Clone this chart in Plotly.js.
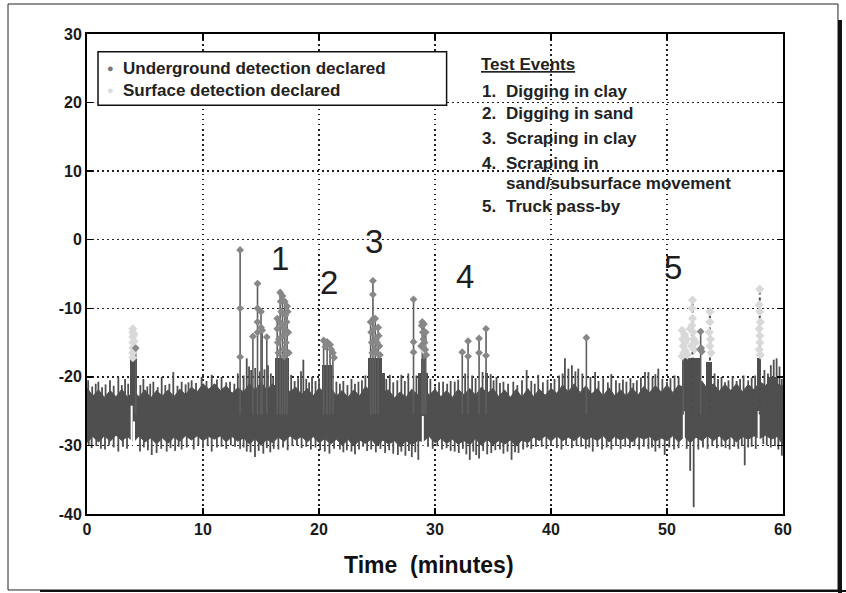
<!DOCTYPE html>
<html><head><meta charset="utf-8">
<script src="https://cdn.plot.ly/plotly-3.0.1.min.js"></script>
<style>html,body{margin:0;padding:0;background:#fff}#chart{width:846px;height:593px}</style>
</head><body><div id="chart"></div>
<script>
// ---- background noise band: envelope (minutes, value) ----
const bandT = [0,0.5,1,1.5,2,2.5,3,3.5,4,4.5,5,5.5,6,6.5,7,7.5,8,8.5,9,9.5,10,10.5,11,11.5,12,12.5,13,13.5,14,14.5,15,15.5,16,16.5,17,17.5,18,18.5,19,19.5,20,20.5,21,21.5,22,22.5,23,23.5,24,24.5,25,25.5,26,26.5,27,27.5,28,28.5,29,29.5,30,30.5,31,31.5,32,32.5,33,33.5,34,34.5,35,35.5,36,36.5,37,37.5,38,38.5,39,39.5,40,40.5,41,41.5,42,42.5,43,43.5,44,44.5,45,45.5,46,46.5,47,47.5,48,48.5,49,49.5,50,50.5,51,51.5,52,52.5,53,53.5,54,54.5,55,55.5,56,56.5,57,57.5,58,58.5,59,59.5,60];
const bandHi = [-21.6,-22.8,-21.9,-23.0,-22.0,-22.9,-21.8,-23.0,-22.1,-22.9,
  -21.9,-23.1,-22.0,-22.8,-21.9,-22.9,-21.8,-22.6,-21.5,-22.2,
  -21.0,-21.8,-21.0,-22.0,-21.3,-22.4,-21.6,-22.2,-21.0,-21.9,
  -20.8,-21.9,-21.0,-21.8,-21.1,-22.2,-21.5,-22.6,-21.7,-22.8,
  -21.6,-22.3,-21.5,-22.8,-22.0,-23.0,-21.9,-22.8,-21.4,-22.1,
  -21.2,-22.2,-21.9,-23.1,-22.2,-23.0,-21.8,-22.6,-21.4,-22.7,
  -21.8,-22.9,-22.0,-23.0,-21.8,-22.6,-21.7,-22.7,-21.5,-22.4,
  -21.7,-22.9,-21.9,-23.0,-21.8,-23.0,-21.7,-22.9,-21.8,-22.7,
  -21.7,-22.4,-21.2,-22.2,-21.0,-22.3,-21.3,-22.5,-21.7,-22.8,
  -21.6,-22.8,-21.9,-22.8,-21.6,-22.7,-21.4,-22.3,-21.3,-22.2,
  -21.2,-22.3,-21.2,-21.6,-20.6,-21.4,-20.6,-21.8,-21.0,-22.1,
  -21.1,-22.0,-21.0,-22.2,-21.1,-21.9,-20.7,-21.3,-20.2,-21.1,
  -21.3];
const bandLo = [-29.6,-28.7,-29.5,-28.6,-29.4,-28.5,-29.3,-28.7,-29.5,-28.6,
  -29.5,-28.9,-29.8,-28.9,-29.7,-28.8,-29.4,-28.6,-29.2,-28.6,
  -29.3,-28.7,-29.1,-28.6,-29.5,-28.7,-29.4,-28.9,-29.8,-29.0,
  -30.0,-29.1,-29.6,-28.8,-29.4,-28.6,-29.2,-28.7,-29.5,-28.7,
  -29.6,-29.0,-29.8,-29.1,-30.0,-29.1,-30.1,-29.2,-29.7,-29.1,
  -30.1,-29.2,-29.8,-29.3,-30.2,-29.3,-29.9,-29.3,-29.4,-28.7,
  -29.6,-29.0,-29.7,-29.1,-29.8,-29.3,-29.9,-29.0,-30.0,-29.1,
  -29.9,-29.3,-29.8,-29.2,-30.1,-29.2,-29.6,-28.8,-29.3,-28.6,
  -29.4,-28.6,-29.3,-28.8,-29.3,-28.6,-29.2,-28.8,-29.3,-28.6,
  -29.5,-28.7,-29.2,-28.8,-29.5,-28.7,-29.1,-28.7,-29.4,-28.9,
  -29.3,-28.6,-29.5,-28.7,-29.6,-28.8,-29.3,-28.6,-29.3,-28.6,
  -29.4,-28.7,-29.5,-28.7,-29.1,-28.6,-29.0,-28.5,-29.1,-28.7,
  -29.9];
const bandMid = -25.5;

// raised parts of the signal during events
const colMid = [4.0, 16.8, 20.7, 24.8, 25.55, 29.0, 28.95, 34.45, 52.1, 53.65, 57.95, 59.1];
const colWidth = [0.55, 1.2, 0.8, 1.2, 0.3, 0.45, 0.9, 0.3, 1.6, 0.5, 0.3, 1.0];
const colTop = [-17.4, -17.3, -18.3, -17.3, -19.5, -17.4, -19.5, -19.5, -17.3, -17.8, -17.3, -20.0];

// thin noise spikes above and below the band
const upT = [0.1,0.45,0.75,0.98,1.3,1.6,1.98,2.3,2.7,3.0,3.28,3.55,4.6,4.86,5.2,5.45,5.72,6.1,6.44,6.75,7.1,7.44,7.8,8.16,8.5,8.75,9.02,9.4,9.88,10.3,10.75,11.2,11.6,12.0,12.33,12.7,13.0,13.5,13.77,13.97,14.15,14.5,14.9,15.3,15.6,15.85,16.05,17.6,17.9,18.2,18.45,18.65,18.9,19.15,19.4,19.7,20.0,21.5,21.8,22.1,22.45,22.8,23.1,23.4,23.7,24.0,25.8,26.1,26.4,26.75,27.1,27.4,27.7,28.4,29.6,30.0,30.35,30.7,31.05,31.35,31.7,32.0,32.6,33.2,33.5,34.1,34.8,35.05,35.3,35.6,35.9,36.3,36.75,37.1,37.5,37.9,38.3,38.6,38.9,39.3,39.7,40.0,40.3,40.7,41.0,41.2,41.5,41.8,42.1,42.35,42.7,43.4,43.8,44.1,44.5,44.9,45.2,45.6,45.9,46.2,46.5,46.85,47.1,47.4,47.75,48.1,48.4,48.75,49.0,49.25,49.6,50.0,50.3,50.65,51.0,54.1,54.4,54.7,55.0,55.3,55.65,56.0,56.3,56.6,57.0,57.3,57.6,58.4,58.7,58.95,59.2,59.45,59.7,59.9];
const upV = [-20.5,-21.4,-21.0,-20.7,-21.5,-21.1,-20.5,-21.3,-20.0,-21.2,-20.3,-21.0,-21.2,-20.3,-21.4,-21.0,-20.7,-21.5,-20.0,-21.2,-21.0,-19.3,-21.3,-20.7,-21.1,-20.8,-20.5,-20.9,-20.0,-20.6,-19.7,-20.4,-20.0,-20.8,-20.7,-21.0,-19.5,-19.8,-17.3,-18.5,-19.0,-18.7,-19.2,-18.9,-18.3,-19.5,-20.0,-19.7,-20.6,-20.2,-19.2,-17.5,-20.3,-20.8,-20.0,-20.6,-20.2,-20.7,-21.0,-20.6,-21.2,-20.3,-21.0,-20.7,-20.5,-19.8,-20.3,-19.7,-20.8,-20.5,-19.7,-20.6,-19.5,-19.8,-20.3,-21.4,-20.8,-20.7,-21.0,-20.6,-20.7,-20.4,-19.5,-19.8,-20.2,-19.3,-19.6,-20.5,-20.0,-20.9,-20.7,-21.0,-20.7,-21.2,-20.5,-19.0,-20.6,-21.0,-19.7,-20.8,-20.4,-20.9,-20.3,-19.8,-19.5,-17.3,-18.8,-18.3,-19.2,-18.8,-19.5,-20.0,-19.3,-20.6,-20.2,-20.8,-19.6,-20.5,-20.9,-20.4,-20.7,-20.2,-20.9,-20.5,-20.1,-19.3,-19.3,-20.0,-19.6,-18.8,-20.3,-20.7,-20.2,-19.8,-20.0,-19.5,-20.3,-20.0,-20.8,-20.5,-19.9,-20.6,-20.3,-19.8,-20.5,-20.1,-19.8,-19.0,-19.5,-18.3,-17.5,-17.3,-18.5,-20.3];
const dnT = [0.15,0.4,0.8,1.2,1.55,1.9,2.3,2.7,3.1,3.45,4.57,4.9,5.25,5.58,6.0,6.4,6.87,7.2,7.6,7.9,8.16,8.6,9.2,9.6,10.0,10.4,10.75,11.2,11.6,12.0,12.4,12.76,13.2,13.5,13.77,14.1,14.48,14.8,15.2,15.5,15.8,16.1,16.5,16.9,17.3,17.7,18.1,18.5,18.9,19.3,19.7,20.1,20.5,20.9,21.3,21.8,22.1,22.4,22.8,23.1,23.45,23.8,24.15,24.5,24.9,25.3,25.7,26.05,26.4,26.8,27.1,27.45,27.75,28.0,28.3,28.56,29.4,29.8,30.2,30.6,31.0,31.35,31.7,32.05,32.4,32.7,33.0,33.3,33.55,33.8,34.15,34.5,34.85,35.2,35.6,35.9,36.25,36.6,36.9,37.2,37.6,37.95,38.3,38.7,39.2,39.6,40.0,40.5,40.9,41.3,41.8,42.2,42.6,43.0,43.3,43.6,44.0,44.4,44.8,45.2,45.6,46.0,46.4,46.8,47.2,47.6,48.0,48.4,48.7,49.0,49.35,49.8,50.2,50.6,51.0,51.7,52.0,52.3,52.7,53.1,53.5,53.9,54.3,54.7,55.05,55.4,55.8,56.15,56.45,56.7,57.0,57.3,57.65,58.3,58.6,58.95,59.3,59.6,59.9];
const dnV = [-30.0,-30.4,-30.1,-30.5,-30.6,-30.0,-30.3,-30.9,-30.2,-30.5,-30.9,-30.3,-30.7,-31.4,-31.1,-30.5,-30.9,-30.4,-30.8,-30.2,-30.6,-30.3,-30.6,-30.0,-30.4,-30.1,-30.9,-30.3,-30.2,-30.5,-30.0,-30.2,-30.5,-30.3,-30.9,-31.0,-31.7,-30.8,-31.2,-30.4,-31.0,-30.5,-30.6,-30.3,-30.7,-30.1,-30.0,-30.4,-30.2,-30.6,-30.3,-30.7,-30.9,-31.2,-30.5,-30.6,-31.0,-30.7,-30.9,-31.3,-30.6,-30.2,-30.8,-30.6,-31.0,-30.5,-31.1,-30.7,-31.2,-31.4,-30.9,-31.5,-30.8,-31.7,-31.0,-32.1,-30.2,-30.5,-30.1,-30.6,-30.4,-30.8,-30.9,-31.1,-30.5,-31.3,-32.1,-30.9,-31.4,-31.9,-30.8,-31.3,-31.1,-30.7,-30.6,-31.2,-30.9,-32.1,-31.0,-31.1,-30.6,-30.3,-30.5,-30.2,-30.2,-30.5,-30.1,-30.4,-30.6,-30.0,-30.4,-30.1,-30.2,-30.5,-30.3,-30.9,-30.2,-30.6,-30.3,-30.6,-30.1,-30.5,-30.2,-30.4,-30.1,-30.6,-30.2,-30.5,-30.3,-30.9,-30.4,-31.4,-30.3,-30.6,-30.4,-30.5,-33.7,-39.0,-30.6,-30.3,-30.5,-30.1,-30.4,-30.2,-30.4,-30.6,-30.2,-30.5,-30.1,-32.9,-30.3,-30.2,-30.5,-29.8,-30.0,-30.3,-30.1,-30.6,-31.5];

// short dropouts (white) inside the band: time, top, bottom
const gapT = [3.85, 4.05, 28.95, 51.45, 57.9];
const gapTop = [-24.2, -26.5, -25.7, -25.0, -25.0];
const gapBot = [-29.8, -30.2, -30.0, -30.5, -29.5];

// detection stems (solid = underground, dashed = surface events)
const stemT = [4.2,13.2,14.3,14.7,15.0,15.1,15.5,16.4,16.65,16.85,17.05,17.25,20.4,20.7,20.95,21.2,24.45,24.65,24.85,25.1,28.15,28.9,29.05,29.2,32.35,32.85,33.8,34.4,43.05,51.4,52.9];
const stemTop = [-15.8,-1.5,-14.1,-6.4,-10.5,-13.2,-14.2,-11.5,-7.7,-8.2,-9.0,-9.7,-14.7,-14.9,-15.3,-16.5,-12.0,-6.0,-11.5,-12.8,-8.7,-12.0,-12.3,-13.5,-16.4,-14.8,-14.4,-13.0,-14.3,-13.0,-13.4];
const dashStemT = [52.2, 53.7, 58.0];
const dashStemTop = [-8.6, -10.4, -7.0];

// underground detection markers
const ugT = [4.2,13.2,13.2,13.2,14.3,14.7,14.7,14.7,14.7,15.0,15.0,15.1,15.5,16.4,16.4,16.45,16.5,16.55,16.6,16.65,16.7,16.75,16.8,16.85,16.9,16.95,17.0,17.0,17.05,17.1,17.15,17.2,17.25,17.3,17.35,17.4,20.4,20.55,20.7,20.85,20.95,21.05,21.2,21.3,24.45,24.5,24.55,24.6,24.65,24.65,24.7,24.75,24.8,24.85,24.9,24.95,25.0,25.1,25.15,25.2,25.25,28.15,28.15,28.15,28.8,28.85,28.9,28.95,29.0,29.05,29.1,29.15,29.2,29.25,32.35,32.85,32.85,33.8,33.8,34.4,34.4,43.05,52.85,52.9,52.95,53.0];
const ugV = [-15.8,-1.5,-10.0,-17.1,-14.1,-6.4,-10.0,-12.0,-13.5,-10.5,-12.8,-13.2,-14.2,-11.5,-13.0,-15.0,-16.5,-14.5,-12.0,-7.7,-9.0,-10.5,-12.5,-8.2,-14.0,-16.0,-13.0,-17.0,-9.0,-11.0,-15.0,-12.0,-9.7,-10.5,-13.5,-16.5,-14.7,-15.6,-14.9,-15.2,-15.3,-16.0,-16.5,-17.2,-12.0,-13.5,-15.0,-16.5,-6.0,-8.0,-11.5,-13.0,-16.0,-11.5,-14.5,-16.5,-15.0,-12.8,-14.0,-15.5,-16.8,-8.7,-14.9,-16.4,-15.5,-12.5,-12.0,-13.5,-14.5,-12.3,-15.0,-16.0,-13.5,-16.8,-16.4,-14.8,-17.0,-14.4,-16.5,-13.0,-16.9,-14.3,-16.0,-13.4,-15.8,-16.3];

// surface detection markers
const sfT = [3.95,3.95,3.95,3.95,3.95,3.95,3.95,4.05,4.05,4.05,29.0,29.1,51.3,51.35,51.4,51.45,51.5,51.55,51.6,51.7,51.75,51.3,52.2,52.15,52.2,52.15,52.25,52.3,52.1,52.35,52.0,52.45,53.7,53.7,53.65,53.75,53.7,53.8,58.0,57.95,58.0,58.05,57.95,58.0,58.0,57.95,58.05];
const sfV = [-13.0,-13.5,-14.2,-15.0,-15.8,-16.5,-17.2,-13.8,-14.8,-16.0,-15.2,-16.2,-13.2,-14.5,-15.5,-16.5,-13.8,-15.0,-16.2,-14.5,-16.8,-17.0,-8.8,-10.0,-11.5,-12.5,-13.5,-14.5,-15.5,-16.0,-13.0,-15.0,-10.5,-12.0,-13.5,-14.5,-15.5,-16.5,-7.2,-9.5,-10.5,-12.0,-13.0,-14.0,-15.0,-16.0,-16.8];

// text
const legendLabels = ['Underground detection declared', 'Surface detection declared'];
const eventTitle = 'Test Events';
const eventNums = ['1.', '2.', '3.', '4.', '', '5.'];
const eventTexts = ['Digging in clay', 'Digging in sand', 'Scraping in clay', 'Scraping in', 'sand/subsurface movement', 'Truck pass-by'];
const bigLabels = ['1', '2', '3', '4', '5'];
const bigLabelT = [16.6, 20.9, 24.7, 32.6, 50.5];
const bigLabelV = [-2.7, -6.3, -0.3, -5.4, -4.1];
const xTicks = [0, 10, 20, 30, 40, 50, 60];
const yTicks = [-40, -30, -20, -10, 0, 10, 20, 30];
const yTickText = ['-40', '-30', '-20', '-10', '0', '10', '20', '30'];
const xTitle = 'Time  (minutes)';

// ---- build ----
const BAND = '#4f4f4f';
function segs(ts, tops, bases) {
  const x = [], y = [];
  ts.forEach((t, i) => { x.push(t, t, null); y.push(Array.isArray(bases) ? bases[i] : bases, tops[i], null); });
  return {x, y};
}
const up = segs(upT, upV, bandMid), dn = segs(dnT, dnV, bandMid);
const fr = {x: up.x.concat(dn.x), y: up.y.concat(dn.y)};
const gp = segs(gapT, gapTop, gapBot);
const st = segs(stemT, stemTop, bandMid);
const ds = segs(dashStemT, dashStemTop, bandMid);

const traces = [
  {type: 'bar', x: colMid, width: colWidth, base: colMid.map(() => bandMid), y: colTop.map(v => v - bandMid),
   marker: {color: BAND, line: {width: 0}}, hoverinfo: 'skip'},
  {type: 'scatter', mode: 'lines', x: bandT, y: bandLo, line: {color: BAND, width: 1}, hoverinfo: 'skip'},
  {type: 'scatter', mode: 'lines', x: bandT, y: bandHi, fill: 'tonexty', fillcolor: BAND, line: {color: BAND, width: 1}, hoverinfo: 'skip'},
  {type: 'scatter', mode: 'lines', x: fr.x, y: fr.y, line: {color: BAND, width: 1.8}, connectgaps: false, hoverinfo: 'skip'},
  {type: 'scatter', mode: 'lines', x: gp.x, y: gp.y, line: {color: '#ffffff', width: 2}, connectgaps: false, hoverinfo: 'skip'},
  {type: 'scatter', mode: 'lines', x: st.x, y: st.y, line: {color: '#5e5e5e', width: 1.6}, connectgaps: false, hoverinfo: 'skip'},
  {type: 'scatter', mode: 'lines', x: ds.x, y: ds.y, line: {color: '#4a4a4a', width: 2, dash: '3px,3px'}, connectgaps: false, hoverinfo: 'skip'},
  {type: 'scatter', mode: 'markers', x: sfT, y: sfV, marker: {symbol: 'diamond', size: 7, color: '#d9d9d9'}, hoverinfo: 'skip'},
  {type: 'scatter', mode: 'markers', x: ugT, y: ugV, marker: {symbol: 'diamond', size: 6, color: '#878787'}, hoverinfo: 'skip'}
];

const FONT = 'Liberation Sans, Arial, Helvetica, sans-serif';
const TXT = {family: FONT, size: 17, weight: 'bold', color: '#222'};
const annotations = [];
// legend
[25.0, 21.8].forEach((v, i) => {
  annotations.push({x: 2.05, y: v, xref: 'x', yref: 'y', text: '●', showarrow: false,
    font: {family: FONT, size: 11, color: i === 0 ? '#777' : '#dcdcdc'}});
  annotations.push({x: 2.95, y: v, xref: 'x', yref: 'y', text: legendLabels[i], showarrow: false, xanchor: 'left', font: TXT});
});
annotations.push({x: 33.75, y: 25.5, xref: 'x', yref: 'y', text: '<u>' + eventTitle + '</u>', showarrow: false, xanchor: 'left', font: TXT});
const evY = [21.55, 18.35, 14.7, 11.05, 8.15, 4.8];
eventTexts.forEach((t, i) => {
  if (eventNums[i]) annotations.push({x: 33.9, y: evY[i], xref: 'x', yref: 'y', text: eventNums[i], showarrow: false, xanchor: 'left', font: TXT});
  annotations.push({x: 35.95, y: evY[i], xref: 'x', yref: 'y', text: t, showarrow: false, xanchor: 'left', font: TXT});
});
bigLabels.forEach((t, i) => annotations.push({x: bigLabelT[i], y: bigLabelV[i], xref: 'x', yref: 'y', text: t, showarrow: false,
  font: {family: FONT, size: 33, color: '#1e1e1e'}}));
annotations.push({x: 0.491, y: -0.106, xref: 'paper', yref: 'paper', xanchor: 'center', yanchor: 'middle', text: xTitle, showarrow: false,
  font: {family: FONT, size: 23, weight: 'bold', color: '#111'}});

const layout = {
  width: 846, height: 593,
  margin: {l: 87, r: 63, t: 34, b: 79},
  paper_bgcolor: '#ffffff', plot_bgcolor: '#ffffff',
  showlegend: false, barmode: 'overlay', bargap: 0,
  xaxis: {range: [0, 60], tickvals: xTicks, ticks: 'inside', ticklen: 6, tickwidth: 1.5, tickcolor: '#000',
    showline: true, linewidth: 2, linecolor: '#000', mirror: 'ticks',
    showgrid: true, gridcolor: '#222', gridwidth: 1.4, griddash: '1.5px,3.5px', zeroline: false,
    tickfont: {family: FONT, size: 16, weight: 'bold', color: '#1a1a1a'}},
  yaxis: {range: [-40, 30], tickvals: yTicks, ticktext: yTickText, ticks: 'inside', ticklen: 6, tickwidth: 1.5, tickcolor: '#000',
    showline: true, linewidth: 2, linecolor: '#000', mirror: 'ticks',
    showgrid: true, gridcolor: '#222', gridwidth: 1.4, griddash: '1.5px,3.5px', zeroline: false,
    tickfont: {family: FONT, size: 16, weight: 'bold', color: '#1a1a1a'}},
  shapes: [
    {type: 'rect', xref: 'x', yref: 'y', x0: 0.95, x1: 31.0, y0: 19.6, y1: 27.4, fillcolor: '#fff', line: {color: '#111', width: 1.5}, layer: 'above'},
    {type: 'rect', xref: 'paper', yref: 'paper', x0: -0.1135, x1: 1.079, y0: -0.1583, y1: 1.0625, line: {color: '#222', width: 1}},
    {type: 'line', xref: 'paper', yref: 'paper', x0: 1.0819, x1: 1.0819, y0: 1.029, y1: -0.1646, line: {color: '#111', width: 4}},
    {type: 'line', xref: 'paper', yref: 'paper', x0: -0.0675, x1: 1.0905, y0: -0.1604, y1: -0.1604, line: {color: '#111', width: 2}}
  ],
  annotations: annotations
};
Plotly.newPlot('chart', traces, layout, {displayModeBar: false, staticPlot: true});
</script>
</body></html>
